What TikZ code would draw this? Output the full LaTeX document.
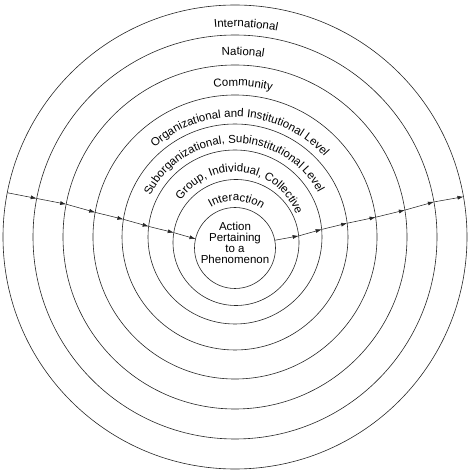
\documentclass[tikz,border=0pt]{standalone}
\usepackage{fontspec}
\setmainfont{Liberation Sans}
\usetikzlibrary{arrows.meta,decorations.text}
\newcommand\labfont{\fontsize{11.5}{11}\selectfont}
\begin{document}
\begin{tikzpicture}[x=1pt,y=1pt,
  ring/.style={circle, draw=black!85, inner sep=0pt, outer sep=0pt, line width=0.6pt},
  arr/.style={line width=0.55pt, draw=black!85, -{Latex[length=6pt,width=4pt]}},
  curved/.style={decorate, decoration={text along path, text align=center, text={|\labfont|#1}}}
]
\useasboundingbox (0,0) rectangle (474,475);
\coordinate (O) at (235,238);
\coordinate (I) at (235,227);
% rings
\node[ring, minimum size=464pt] (c8) at (O) {};
\node[ring, minimum size=404pt] (c7) at (O) {};
\node[ring, minimum size=344pt] (c6) at (O) {};
\node[ring, minimum size=284pt] (c5) at (O) {};
\node[ring, minimum size=226pt] (c4) at (O) {};
\node[ring, minimum size=174pt] (c3) at (O) {};
\node[ring, minimum size=126pt] (c2) at (236,232.5) {};
\node[ring, minimum size=81pt] (c1) at (I) {};
\node[align=center, font=\labfont, inner sep=0pt] (core) at (235,232.5) {Action\\Pertaining\\to a\\Phenomenon};
% inward arrows
\draw[arr] (c8.169) -- (c7.169);
\draw[arr] (c7.169) -- (c6.169);
\draw[arr] (c6.169) -- (c5.170);
\draw[arr] (c5.170) -- (c4.171);
\draw[arr] (c4.171) -- (c3.173);
\draw[arr] (c3.173) -- (c2.171);
\draw[arr] (c2.171) -- (c1.167);
% outward arrows
\draw[arr] (c1.11) -- (c2.6);
\draw[arr] (c2.6) -- (c3.5);
\draw[arr] (c3.5) -- (c4.7);
\draw[arr] (c4.7) -- (c5.8);
\draw[arr] (c5.8) -- (c6.9);
\draw[arr] (c6.9) -- (c7.10);
\draw[arr] (c7.10) -- (c8.10);
% curved labels
\path[curved={International}] (O) ++(172:210pt) arc[start angle=172, end angle=2, radius=210pt];
\path[curved={National}] (O) ++(172.5:182pt) arc[start angle=172.5, end angle=2.5, radius=182pt];
\path[curved={Community}] (O) ++(172:151pt) arc[start angle=172, end angle=2, radius=151pt];
\path[curved={Organizational and Institutional Level}] (O) ++(172:120pt) arc[start angle=172, end angle=2, radius=120pt];
\path[curved={Suborganizational, Subinstitutional Level}] (O) ++(176:94pt) arc[start angle=176, end angle=6, radius=94pt];
\path[curved={Group, Individual, Collective}] (O) ++(168:65pt) arc[start angle=168, end angle=-2, radius=65pt];
\path[curved={Interaction}] (I) ++(173:47pt) arc[start angle=173, end angle=3, radius=47pt];
\end{tikzpicture}
\end{document}
